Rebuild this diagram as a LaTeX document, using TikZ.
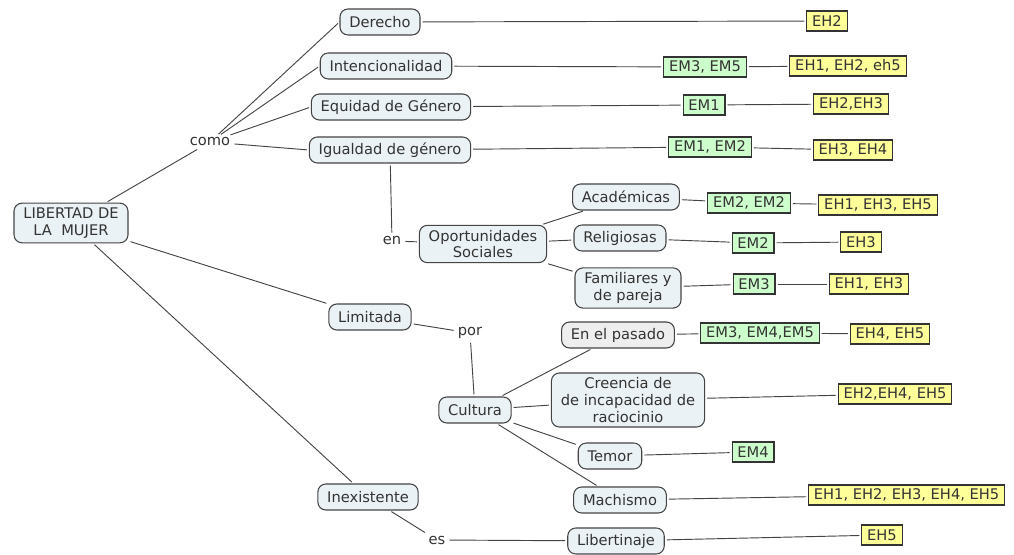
\documentclass[tikz,border=0pt]{standalone}
\usepackage{fontspec}
\setmainfont{DejaVu Sans}
\usepackage{tikz}
\definecolor{conc}{HTML}{EBF2F5}
\definecolor{concgray}{HTML}{EEEEEE}
\definecolor{emgreen}{HTML}{CCFFCC}
\definecolor{ehyellow}{HTML}{FFFF99}
\definecolor{ink}{HTML}{333333}
\definecolor{wire}{HTML}{444444}

\begin{document}
\begin{tikzpicture}[x=0.75pt,y=-0.75pt,
   every node/.style={font=\fontsize{11}{12.5}\selectfont,text=ink},
   concept/.style={draw=wire,fill=conc,rounded corners=6pt,line width=0.8pt,align=center,inner xsep=7pt,inner ysep=3.5pt,minimum height=19.5pt},
   linkword/.style={inner sep=1.5pt},
   em/.style={draw=black!80,fill=emgreen,line width=0.8pt,inner xsep=4pt,inner ysep=1pt,minimum height=15pt},
   eh/.style={em,fill=ehyellow},
   link/.style={draw=wire,line width=0.7pt,shorten <=1.5pt,shorten >=1.5pt}]
   \useasboundingbox (0,0) rectangle (1014,555);
   \node[concept] (lib) at (71,223) {LIBERTAD DE\\LA\ \ MUJER};
   \node[linkword] (como) at (210,142) {como};
   \node[concept] (der) at (380,22) {Derecho};
   \node[concept] (inten) at (386,66) {Intencionalidad};
   \node[concept] (equi) at (391,107) {Equidad de Género};
   \node[concept] (igual) at (390,150) {Igualdad de género};
   \node[linkword] (en) at (392,241) {en};
   \node[concept] (opor) at (483,244) {Oportunidades\\Sociales};
   \node[concept] (acad) at (626,197) {Académicas};
   \node[concept] (relig) at (620,238) {Religiosas};
   \node[concept] (fam) at (628,288) {Familiares y\\de pareja};
   \node[concept] (limit) at (370,317) {Limitada};
   \node[linkword] (por) at (470,333) {por};
   \node[concept] (cult) at (475,410) {Cultura};
   \node[concept,fill=concgray] (pasado) at (618,335) {En el pasado};
   \node[concept] (creen) at (628,400) {Creencia de\\de incapacidad de\\raciocinio};
   \node[concept] (temor) at (610,456) {Temor};
   \node[concept] (mach) at (620,500) {Machismo};
   \node[concept] (inex) at (368,497) {Inexistente};
   \node[linkword] (es) at (437,540) {es};
   \node[concept] (libert) at (616,541) {Libertinaje};
   % fuentes
   \node[em] (em-inten) at (705,67) {EM3, EM5};
   \node[em] (em-equi) at (704,105) {EM1};
   \node[em] (em-igual) at (710,147) {EM1, EM2};
   \node[em] (em-acad) at (749,203) {EM2, EM2};
   \node[em] (em-relig) at (753,243) {EM2};
   \node[em] (em-fam) at (754,284) {EM3};
   \node[em] (em-pasado) at (760,333) {EM3, EM4,EM5};
   \node[em] (em-temor) at (753,452) {EM4};
   \node[eh] (eh-der) at (827,21) {EH2};
   \node[eh] (eh-inten) at (848,66) {EH1, EH2, eh5};
   \node[eh] (eh-equi) at (851,104) {EH2,EH3};
   \node[eh] (eh-igual) at (853,150) {EH3, EH4};
   \node[eh] (eh-acad) at (878,205) {EH1, EH3, EH5};
   \node[eh] (eh-relig) at (861,242) {EH3};
   \node[eh] (eh-fam) at (869,284) {EH1, EH3};
   \node[eh] (eh-pasado) at (890,334) {EH4, EH5};
   \node[eh] (eh-creen) at (895,394) {EH2,EH4, EH5};
   \node[eh,anchor=west] (eh-mach) at (808,495) {EH1, EH2, EH3, EH4, EH5};
   \node[eh] (eh-libert) at (882,535) {EH5};
   % enlaces
   \draw[link] (lib) -- (como);
   \draw[link] (como) -- (der.west);
   \draw[link] (como) -- (inten.west);
   \draw[link] (como) -- (equi.west);
   \draw[link] (como) -- (igual.west);
   \draw[link] (igual) -- (en);
   \draw[link] (en) -- (opor);
   \draw[link] (opor) -- (acad);
   \draw[link] (opor) -- (relig);
   \draw[link] (opor) -- (fam);
   \draw[link] (lib) -- (limit);
   \draw[link] (limit) -- (por);
   \draw[link] (por) -- (cult);
   \draw[link] (cult) -- (pasado);
   \draw[link] (cult) -- (creen);
   \draw[link] (cult) -- (temor);
   \draw[link] (cult) -- (mach);
   \draw[link] (lib) -- (inex);
   \draw[link] (inex) -- (es);
   \draw[link] (es) -- (libert);
   \draw[link] (der) -- (eh-der);
   \draw[link] (inten) -- (em-inten);
   \draw[link] (em-inten) -- (eh-inten);
   \draw[link] (equi) -- (em-equi);
   \draw[link] (em-equi) -- (eh-equi);
   \draw[link] (igual) -- (em-igual);
   \draw[link] (em-igual) -- (eh-igual);
   \draw[link] (acad) -- (em-acad);
   \draw[link] (em-acad) -- (eh-acad);
   \draw[link] (relig) -- (em-relig);
   \draw[link] (em-relig) -- (eh-relig);
   \draw[link] (fam) -- (em-fam);
   \draw[link] (em-fam) -- (eh-fam);
   \draw[link] (pasado) -- (em-pasado);
   \draw[link] (em-pasado) -- (eh-pasado);
   \draw[link] (creen) -- (eh-creen);
   \draw[link] (temor) -- (em-temor);
   \draw[link] (mach) -- (eh-mach);
   \draw[link] (libert) -- (eh-libert);
\end{tikzpicture}
\end{document}
